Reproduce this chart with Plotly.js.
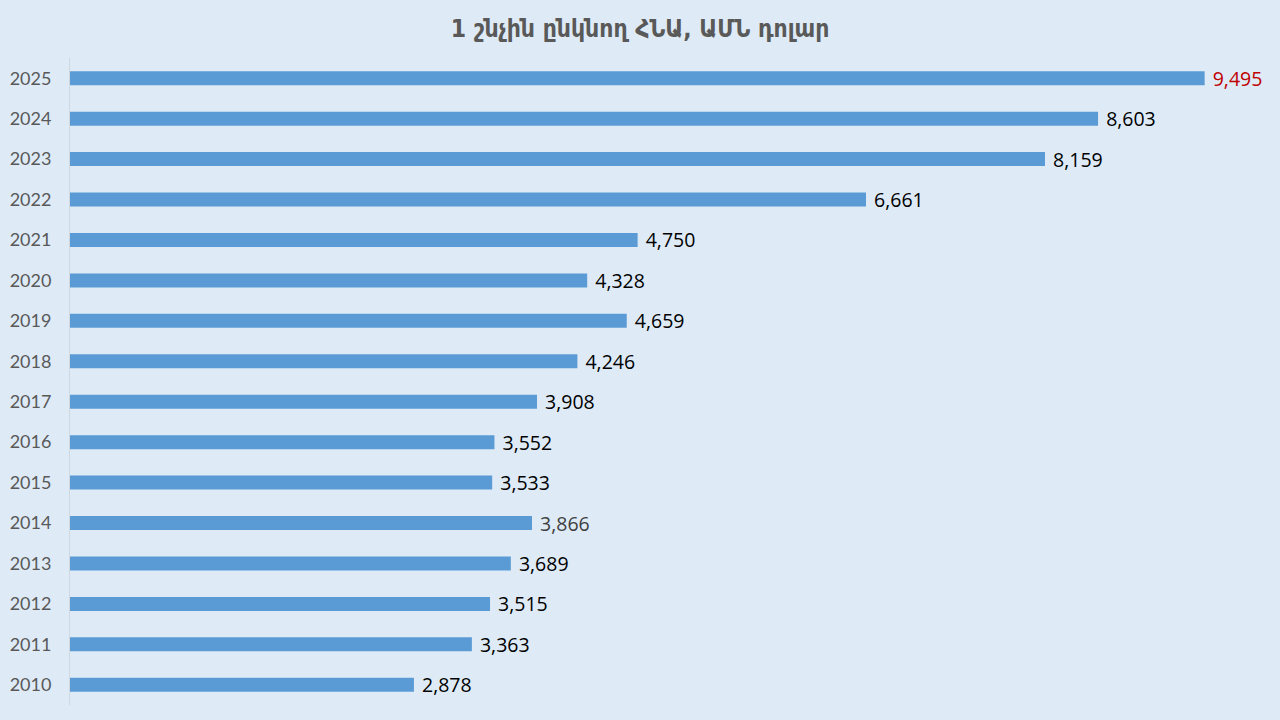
<!DOCTYPE html>
<html><head><meta charset="utf-8">
<script src="https://cdn.plot.ly/plotly-3.0.1.min.js"></script>
<style>html,body{margin:0;padding:0;background:#DEEBF7;}#c{width:1280px;height:720px;}</style>
</head><body><div id="c"></div>
<script>
const years = ['2010','2011','2012','2013','2014','2015','2016','2017','2018','2019','2020','2021','2022','2023','2024','2025'];
const values = [2878,3363,3515,3689,3866,3533,3552,3908,4246,4659,4328,4750,6661,8159,8603,9495];
const labelColors = ['#000','#000','#000','#000','#404040','#000','#000','#000','#000','#000','#000','#000','#000','#000','#000','#C00000'];
const titleText = '1 շնչին ընկնող ՀՆԱ, ԱՄՆ դոլար';

Plotly.newPlot('c', [{
  type: 'bar', orientation: 'h', y: years, x: values,
  marker: {color: '#5B9BD5'},
  text: values.map(v => ' ' + v.toLocaleString('en-US')),
  textposition: 'outside', constraintext: 'none', cliponaxis: false,
  textfont: {family: 'Open Sans, sans-serif', size: 19.5, color: labelColors},
  hoverinfo: 'none'
}], {
  width: 1280, height: 720,
  paper_bgcolor: '#DEEBF7', plot_bgcolor: '#DEEBF7',
  margin: {l: 70, r: 15, t: 58, b: 15},
  bargap: 0.654,
  showlegend: false,
  title: {text: '<b>' + titleText + '</b>', x: 0.5, xanchor: 'center', y: 0.96, yanchor: 'middle',
          font: {family: 'DejaVu Sans Condensed, DejaVu Sans, sans-serif', size: 24.5, color: '#595959'}},
  xaxis: {range: [0, 10000], visible: false, fixedrange: true},
  yaxis: {type: 'category', showline: true, linecolor: '#D0D7DE', linewidth: 1,
          ticks: '', ticklabelstandoff: 14, showgrid: false,
          tickfont: {family: 'Lato, sans-serif', size: 18, color: '#595959'}}
}, {displayModeBar: false, staticPlot: true});
</script></body></html>
